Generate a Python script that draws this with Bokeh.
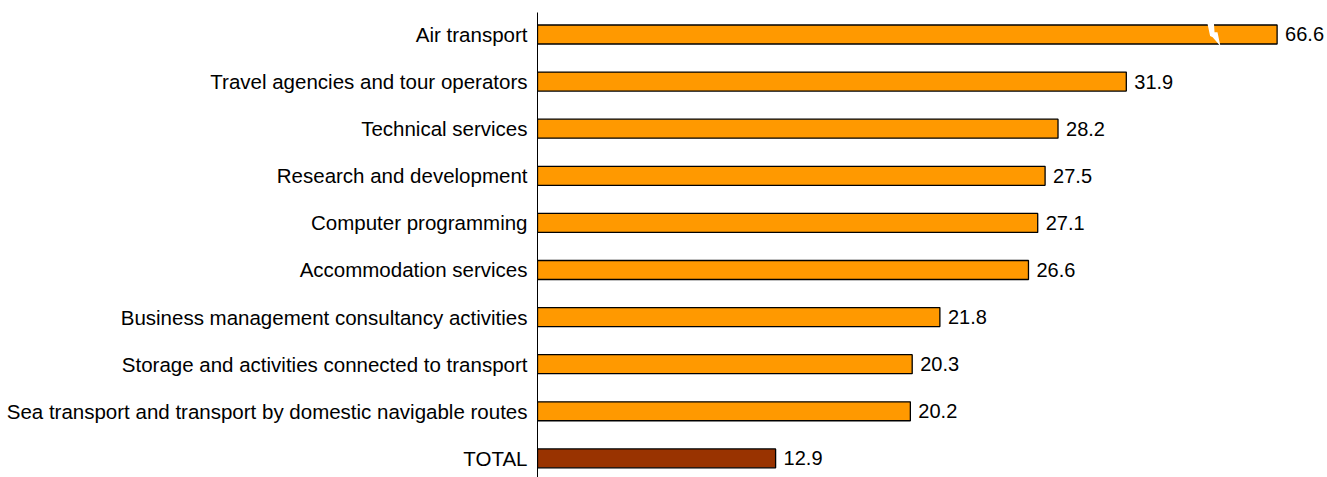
from bokeh.plotting import figure
from bokeh.models import ColumnDataSource, FixedTicker
from bokeh.core.properties import value
from bokeh.embed import file_html
from bokeh.resources import INLINE

# ---- data (top to bottom) ----
categories = [
    "Air transport",
    "Travel agencies and tour operators",
    "Technical services",
    "Research and development",
    "Computer programming",
    "Accommodation services",
    "Business management consultancy activities",
    "Storage and activities connected to transport",
    "Sea transport and transport by domestic navigable routes",
    "TOTAL",
]
values = [66.6, 31.9, 28.2, 27.5, 27.1, 26.6, 21.8, 20.3, 20.2, 12.9]
colors = ["#FF9900"] * 9 + ["#993300"]

# display cap for the broken (truncated) bar
BREAK_CAP = 40.07
BREAK_AT = 36.6

n = len(categories)
ypos = [n - 1 - i for i in range(n)]
shown = [min(v, BREAK_CAP) for v in values]

src = ColumnDataSource(dict(
    y=ypos, right=shown, val=values, color=colors,
    label=["{:.1f}".format(v) for v in values],
))

p = figure(
    width=1327, height=477,
    x_range=(0, 42.8), y_range=(-0.406, 9.467),
    output_backend="svg", toolbar_location=None,
    x_axis_location=None,
    min_border_left=537, min_border_right=0,
    min_border_top=12, min_border_bottom=0,
)
p.outline_line_color = None
p.xgrid.visible = False
p.ygrid.visible = False
p.background_fill_color = "white"
p.border_fill_color = "white"

p.hbar(y="y", left=0, right="right", height=0.403, source=src,
       fill_color="color", line_color="black", line_width=1.3)

# axis break mark (white lightning) on the truncated bar
yb = ypos[0]
dx = [-0.30, 0.05, 0.08, 0.24, 0.40, -0.02, -0.16]
dy = [0.23, 0.23, 0.05, 0.05, -0.25, -0.06, -0.03]
p.patch([BREAK_AT + d for d in dx], [yb + d for d in dy],
        fill_color="white", line_color=None)

p.text(x="right", y="y", text="label", source=src,
       x_offset=8, text_align="left", text_baseline="middle",
       text_font=value("Liberation Sans"), text_font_size="20px",
       text_color="black")

ax = p.yaxis[0]
ax.ticker = FixedTicker(ticks=ypos)
ax.major_label_overrides = {y: c for y, c in zip(ypos, categories)}
ax.major_tick_line_color = None
ax.minor_tick_line_color = None
ax.major_tick_out = 0
ax.major_tick_in = 0
ax.major_label_standoff = 10
ax.axis_line_color = "black"
ax.axis_line_width = 1
ax.major_label_text_font = "Liberation Sans"
ax.major_label_text_font_size = "20.5px"
ax.major_label_text_color = "black"

open("out.html", "w").write(file_html(p, INLINE))
